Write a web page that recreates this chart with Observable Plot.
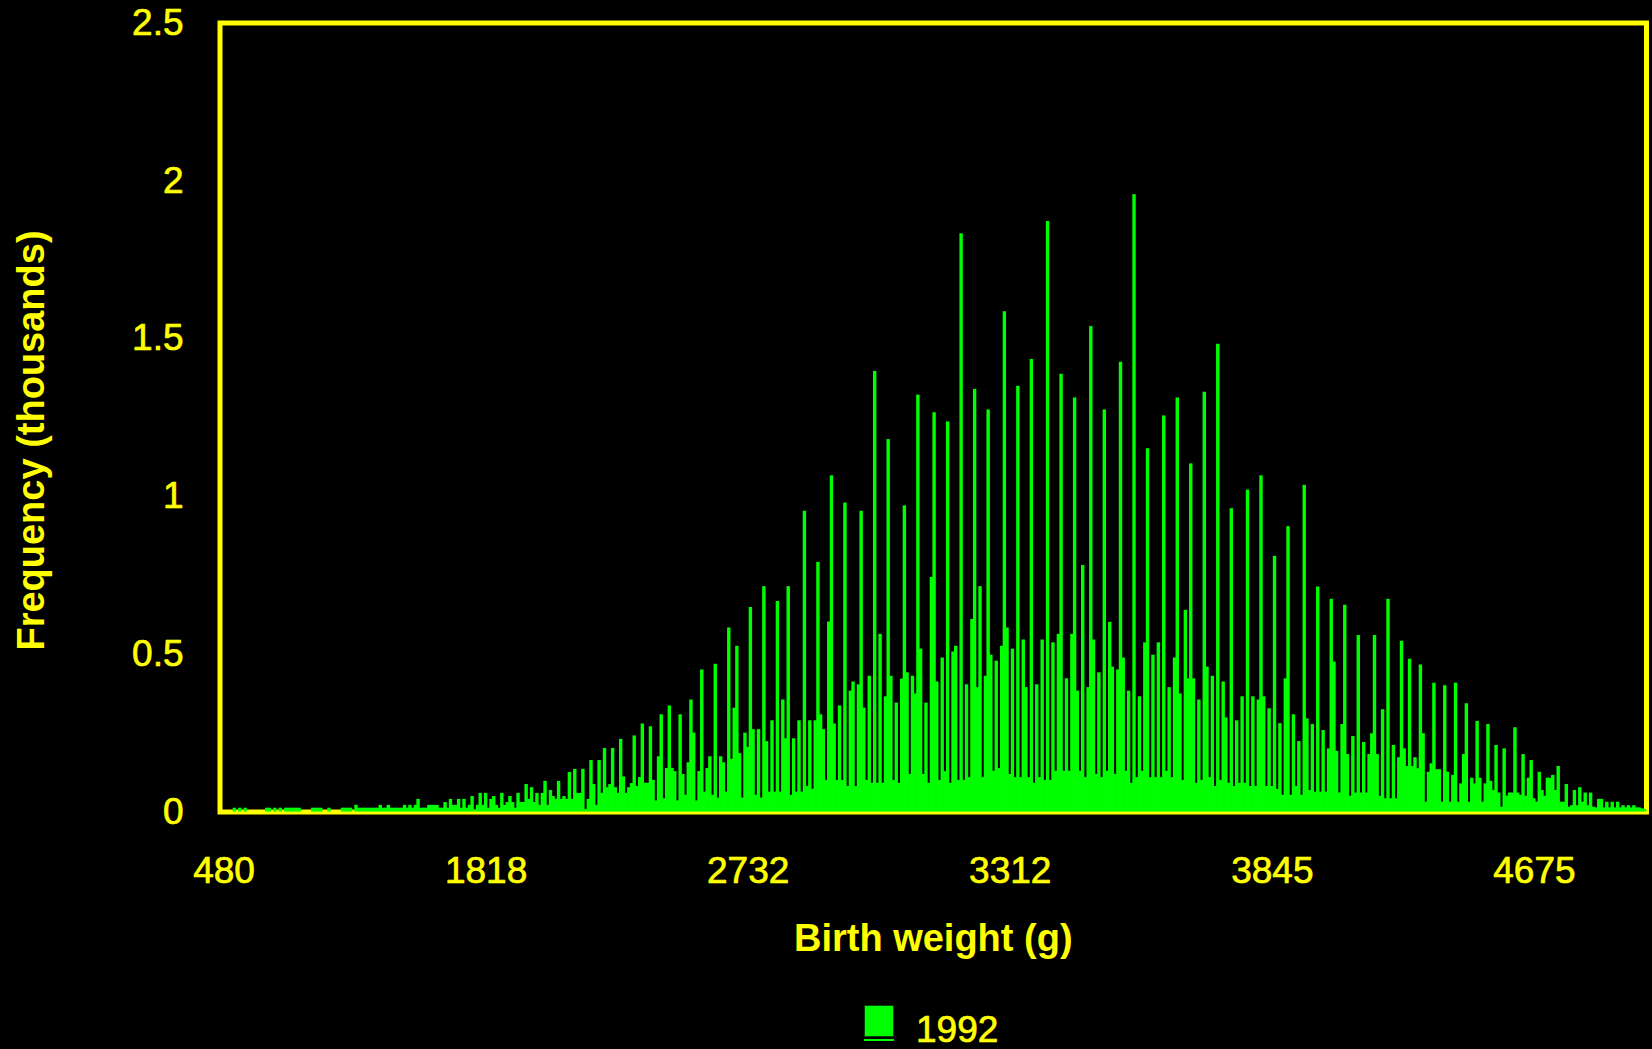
<!DOCTYPE html>
<html>
<head>
<meta charset="utf-8">
<script src="https://cdn.jsdelivr.net/npm/d3@7"></script>
<script src="https://cdn.jsdelivr.net/npm/@observablehq/plot@0.6"></script>
<style>
  html, body { margin: 0; padding: 0; background: #000; }
  #wrap { position: relative; width: 1652px; height: 1049px; background: #000; overflow: hidden; font-family: "Liberation Sans", Arial, sans-serif; }
  #legend-swatch { position: absolute; left: 864px; top: 1005px; width: 30px; height: 32px; background: #00ff00; box-sizing: border-box; border: 1px solid #004400; }
  #legend-under { position: absolute; left: 864px; top: 1039px; width: 30px; height: 2px; background: #00ff00; }
  #legend-text { position: absolute; left: 916px; top: 1009px; font-size: 37px; color: #ffff00; line-height: normal; -webkit-text-stroke: 0.7px #ffff00; }
</style>
</head>
<body>
<div id="wrap">
  <div id="chart"></div>
  <div id="legend-swatch"></div>
  <div id="legend-under"></div>
  <div id="legend-text"></div>
</div>
<script>
// Frequency (thousands) per bar, left to right (birth weight classes from 480 g upward)
const frequency = [
  // left tail
  0, 0, 0, 0, 0, 0.012, 0, 0.012, 0, 0.012,
  0, 0, 0, 0, 0, 0, 0, 0.012, 0.012, 0,
  0.012, 0, 0.012, 0, 0.012, 0.012, 0.012, 0.012, 0.012, 0.012,
  0, 0, 0, 0, 0.012, 0.012, 0.012, 0.012, 0, 0,
  0.012, 0, 0, 0, 0, 0.012, 0.012, 0.012, 0.012, 0,
  0.021, 0.012, 0.012, 0.012, 0.012, 0.012, 0.012, 0.012, 0.012, 0.021,
  0.012, 0.012, 0.021, 0.012, 0.012, 0.012, 0.012, 0.012, 0.021, 0.012,
  0.021, 0.012, 0.021, 0.040, 0.012, 0.012, 0.012, 0.021, 0.021, 0.021,
  0.021, 0.012, 0.012, 0.030, 0.012, 0.040, 0.021, 0.021, 0.040, 0.012,
  0.040, 0.012, 0.021, 0.049, 0.005, 0.021, 0.059, 0.021, 0.059, 0.012,
  0.040, 0.049, 0.021, 0.012, 0.059, 0.021, 0.030, 0.049, 0.030, 0.012,
  0.059, 0.030, 0.030, 0.087, 0.040, 0.077, 0.030, 0.059, 0.021, 0.059,
  0.097, 0.021, 0.068, 0.049, 0.040, 0.097, 0.040, 0.049, 0.040, 0.125,
  0.040, 0.135, 0.059, 0.059, 0.135, 0.008, 0.040, 0.163, 0.087, 0.021,
  0.163, 0.059, 0.201, 0.077, 0.087, 0.201, 0.077, 0.059, 0.230, 0.111,
  0.059, 0.077, 0.090,
  // rising side
  0.241, 0.081, 0.109, 0.279, 0.091, 0.091, 0.270, 0.100, 0.035, 0.175,
  0.308, 0.042, 0.138, 0.336, 0.138, 0.128, 0.035, 0.308, 0.119, 0.053,
  0.156, 0.355, 0.250, 0.035, 0.128, 0.450, 0.063, 0.138, 0.175, 0.053,
  0.468, 0.044, 0.175, 0.156, 0.063, 0.583, 0.167, 0.329, 0.525, 0.185,
  0.044, 0.250, 0.205, 0.648, 0.261, 0.053, 0.261, 0.044, 0.714, 0.223,
  0.063, 0.289, 0.063, 0.667, 0.063, 0.355, 0.232, 0.714, 0.053, 0.232,
  0.063, 0.289, 0.063, 0.953, 0.081, 0.289, 0.072, 0.289, 0.791, 0.308,
  0.261, 0.100, 0.602, 1.065, 0.279, 0.100, 0.336, 0.100, 0.979, 0.081,
  0.383, 0.412, 0.081, 0.403, 0.953, 0.329, 0.100, 0.430, 0.091, 1.396,
  0.091, 0.563, 0.091, 0.365, 1.180, 0.430, 0.100, 0.345, 0.091, 0.421,
  0.970, 0.441, 0.119, 0.430, 0.374, 1.321, 0.516, 0.119, 0.345, 0.091,
  0.743, 1.265, 0.412, 0.100, 0.488, 0.128, 1.236, 0.091, 0.507, 0.525,
  0.100,
  // peak
  1.832, 0.100, 0.403, 0.109, 0.610, 1.339, 0.394, 0.714, 0.109, 0.430,
  1.274, 0.497, 0.129, 0.478, 0.138, 0.525, 1.585, 0.583, 0.119, 0.516,
  0.109, 1.349, 0.109, 0.545, 0.394, 0.109, 1.434, 0.091, 0.403, 0.109,
  0.545, 0.100, 1.871, 0.100, 0.536, 0.129, 0.563, 1.387, 0.129, 0.422,
  0.129, 0.563, 1.312, 0.383, 0.129, 0.781, 0.109, 0.394, 1.538, 0.545,
  0.119, 0.441, 0.109, 1.274, 0.129, 0.601, 0.459, 0.119, 0.450, 1.425,
  0.488, 0.129, 0.383, 0.091, 1.956, 0.109, 0.365, 0.129, 0.536, 1.151,
  0.109, 0.497, 0.109, 0.536, 0.109, 1.255, 0.129, 0.394, 0.109, 0.488,
  1.312, 0.374, 0.100, 0.639, 0.422, 1.103, 0.422, 0.091, 0.355, 0.100,
  1.330, 0.459, 0.109, 0.430, 0.081, 1.482, 0.100, 0.412, 0.298, 0.091,
  0.961, 0.081, 0.289, 0.091, 0.365, 0.091, 1.020, 0.081, 0.365, 0.081,
  0.355, 1.065, 0.365, 0.081, 0.327, 0.081, 0.810, 0.072, 0.280, 0.053,
  0.422, 0.904, 0.053, 0.308, 0.081, 0.223,
  // falling side and right tail
  0.053, 1.035, 0.295, 0.068, 0.277, 0.063, 0.713, 0.063, 0.258, 0.063,
  0.200, 0.674, 0.475, 0.192, 0.060, 0.277, 0.655, 0.182, 0.050, 0.239,
  0.060, 0.559, 0.060, 0.220, 0.060, 0.182, 0.248, 0.559, 0.182, 0.050,
  0.324, 0.042, 0.674, 0.042, 0.211, 0.042, 0.172, 0.541, 0.200, 0.144,
  0.484, 0.144, 0.172, 0.137, 0.466, 0.248, 0.031, 0.126, 0.153, 0.408,
  0.134, 0.134, 0.031, 0.400, 0.126, 0.031, 0.116, 0.408, 0.031, 0.089,
  0.182, 0.343, 0.031, 0.107, 0.089, 0.287, 0.107, 0.031, 0.089, 0.277,
  0.097, 0.068, 0.211, 0.060, 0.015, 0.200, 0.050, 0.060, 0.060, 0.267,
  0.060, 0.053, 0.182, 0.050, 0.107, 0.163, 0.042, 0.031, 0.126, 0.068,
  0.050, 0.107, 0.107, 0.116, 0.068, 0.144, 0.031, 0.031, 0.087, 0.015,
  0.020, 0.068, 0.020, 0.077, 0.031, 0.060, 0.020, 0.060, 0.015, 0.013,
  0.040, 0.040, 0.013, 0.031, 0.013, 0.031, 0.013, 0.031, 0.013, 0.020,
  0.013, 0.020, 0.013, 0.020, 0.013, 0.013, 0.010, 0.008
];

// X tick labels (birth weight, g) and the bars they sit under
const tickLabels = ["480", "1818", "2732", "3312", "3845", "4675"];
const tickBins = [1, 98, 195, 292, 389, 486];

// Y ticks (thousands)
const yTicks = [0, 0.5, 1, 1.5, 2, 2.5];
const yTickLabels = ["0", "0.5", "1", "1.5", "2", "2.5"];

const xTitle = "Birth weight (g)";
const yTitle = "Frequency (thousands)";
const seriesName = "1992";

const YELLOW = "#ffff00";
const GREEN = "#00ff00";

const data = frequency.map((v, i) => ({bin: i, v}));
const ticks = tickBins.map((b, i) => ({bin: b, label: tickLabels[i]}));
const yt = yTicks.map((v, i) => ({v, label: yTickLabels[i]}));

const chart = Plot.plot({
  width: 1652,
  height: 1000,
  marginLeft: 219.5,
  marginRight: 6,
  marginTop: 22.5,
  marginBottom: 188.5,
  style: {background: "#000", color: YELLOW, fontFamily: "'Liberation Sans', Arial, sans-serif", overflow: "visible"},
  x: {type: "band", domain: data.map(d => d.bin), padding: 0, axis: null},
  y: {domain: [0, 2.5], axis: null},
  marks: [
    Plot.frame({stroke: YELLOW, strokeWidth: 5}),
    Plot.barY(data, {x: "bin", y: "v", fill: GREEN, insetLeft: -0.35, insetRight: -0.35}),
    Plot.text(ticks, {x: "bin", text: "label", frameAnchor: "bottom", dy: 59, fontSize: 37, fill: YELLOW, stroke: YELLOW, strokeWidth: 0.7, lineAnchor: "middle"}),
    Plot.text(yt, {y: "v", text: "label", frameAnchor: "left", dx: -36.5, textAnchor: "end", fontSize: 37, fill: YELLOW, stroke: YELLOW, strokeWidth: 0.7, lineAnchor: "middle"}),
    Plot.text([xTitle], {text: d => d, frameAnchor: "bottom", dy: 127, fontSize: 38, fontWeight: "bold", fill: YELLOW, lineAnchor: "middle"}),
    Plot.text([yTitle], {text: d => d, frameAnchor: "left", dx: -188.5, dy: 23, rotate: -90, textAnchor: "middle", fontSize: 38, fontWeight: "bold", fill: YELLOW, lineAnchor: "middle"})
  ]
});

document.getElementById("chart").appendChild(chart);
document.getElementById("legend-text").textContent = seriesName;
</script>
</body>
</html>
